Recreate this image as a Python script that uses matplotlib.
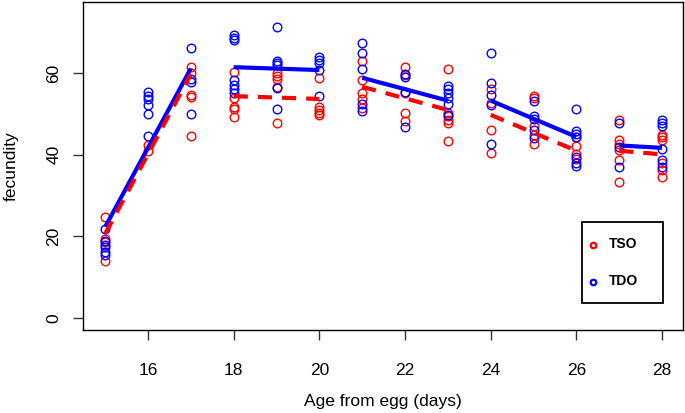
import matplotlib
matplotlib.use("Agg")
import matplotlib.pyplot as plt
from matplotlib.patches import Rectangle

plt.rcParams['font.family'] = ['Liberation Sans', 'DejaVu Sans']

# ---- data ----
days = [15, 16, 17, 18, 19, 20, 21, 22, 23, 24, 25, 26, 27, 28]
tso_vals = [
    [24.8, 19.3, 18.5, 13.9],
    [42.3, 41.0],
    [61.6, 60.0, 54.7, 54.3, 44.6],
    [60.2, 53.9, 51.7, 51.2, 49.2],
    [60.0, 59.3, 58.5, 56.7, 47.7],
    [58.8, 51.7, 51.0, 50.3, 49.8],
    [63.1, 58.4, 55.2, 53.6, 51.4],
    [61.6, 59.6, 55.2, 50.3, 48.4],
    [61.0, 50.3, 49.5, 48.5, 47.9, 43.4],
    [56.1, 52.8, 46.1, 40.5],
    [54.4, 53.9, 47.1, 44.9, 42.6],
    [44.3, 42.2, 40.1, 38.9],
    [48.5, 43.6, 42.7, 41.2, 38.7, 33.4],
    [44.9, 44.3, 43.6, 37.9, 36.3, 34.6],
]
tdo_vals = [
    [21.9, 18.8, 17.9, 17.3, 16.2, 15.4],
    [55.3, 54.5, 53.6, 52.2, 50.0, 44.6],
    [66.1, 58.5, 57.8, 50.0],
    [69.4, 68.6, 68.2, 58.4, 57.1, 56.1, 55.1],
    [71.3, 63.1, 62.6, 62.0, 56.3, 51.2],
    [64.0, 63.3, 62.6, 60.8, 54.4],
    [67.4, 64.9, 61.0, 52.5, 50.7],
    [59.8, 59.2, 55.5, 46.9],
    [56.9, 56.1, 55.1, 54.0, 52.5, 49.8],
    [65.0, 57.7, 54.7, 52.2, 42.6],
    [53.3, 49.5, 48.7, 46.1, 44.0],
    [51.2, 45.9, 45.1, 44.3, 39.5, 38.1, 37.2],
    [47.9, 41.8, 36.9],
    [48.5, 47.9, 47.1, 41.3, 38.7, 36.9],
]
# fitted segments (start day, end day)
seg_days = [(15, 17), (18, 20), (21, 23), (24, 26), (27, 28)]
tdo_fit = [(22.3, 61.2), (61.5, 60.8), (58.9, 53.3), (53.3, 44.4), (42.3, 41.7)]
tso_fit = [(20.6, 59.8), (54.4, 53.7), (56.7, 51.0), (49.8, 41.0), (41.0, 40.1)]
xticks = [16, 18, 20, 22, 24, 26, 28]
yticks = [0, 20, 40, 60]
series_names = ["TSO", "TDO"]

RED = "#FF0000"
BLUE = "#0000FF"

W, H = 685, 413
AX_L, AX_R, AX_T, AX_B = 83, 683, 2, 330
fig = plt.figure(figsize=(W / 100, H / 100), dpi=100)
ax = fig.add_axes([AX_L / W, (H - AX_B) / H, (AX_R - AX_L) / W, (AX_B - AX_T) / H])

for d, vals in zip(days, tso_vals):
    ax.plot([d] * len(vals), vals, linestyle='none', marker='o', ms=6.2,
            mfc='none', mec=RED, mew=1.0)
for d, vals in zip(days, tdo_vals):
    ax.plot([d] * len(vals), vals, linestyle='none', marker='o', ms=6.2,
            mfc='none', mec=BLUE, mew=1.0)

for (d0, d1), (b0, b1), (r0, r1) in zip(seg_days, tdo_fit, tso_fit):
    ax.plot([d0, d1], [b0, b1], color=BLUE, lw=3.0, solid_capstyle='butt')
    ax.plot([d0, d1], [r0, r1], color=RED, lw=3.0, linestyle=(0, (3.4, 2.4)),
            dash_capstyle='butt')

ax.set_xlim(14.482, 28.49)
ax.set_ylim(-3.0, 77.5)
ax.set_xticks(xticks)
ax.set_yticks(yticks)
ax.set_yticklabels([str(v) for v in yticks], rotation=90, va='center')
ax.tick_params(axis='both', direction='out', length=7.5, width=1.0,
               labelsize=12.5, color='#333333')
ax.tick_params(axis='x', pad=16)
ax.tick_params(axis='y', pad=8)
for s in ax.spines.values():
    s.set_linewidth(1.0)
    s.set_color('black')

ax.set_xlabel("Age from egg (days)", fontsize=12.5, labelpad=12)
ax.set_ylabel("fecundity", fontsize=12.5, labelpad=20)


# ---- legend (drawn in axes fraction from pixel layout) ----
def fx(px):
    return (px - AX_L) / (AX_R - AX_L)


def fy(py):
    return (AX_B - py) / (AX_B - AX_T)


ax.add_patch(Rectangle((fx(581.7), fy(302.7)), fx(662.7) - fx(581.7),
                       fy(221.7) - fy(302.7), transform=ax.transAxes,
                       fill=False, edgecolor='black', lw=1.3, zorder=5))
for name, col, py in zip(series_names, [RED, BLUE], [245, 282]):
    ax.plot([fx(593)], [fy(py)], transform=ax.transAxes, linestyle='none',
            marker='o', ms=4, mfc='none', mec=col, mew=1.6, zorder=6,
            clip_on=False)
    ax.text(fx(609), fy(py - 1), name, transform=ax.transAxes, ha='left',
            va='center', fontsize=10, fontweight='bold', zorder=6)

fig.savefig("out.png", dpi=100)
